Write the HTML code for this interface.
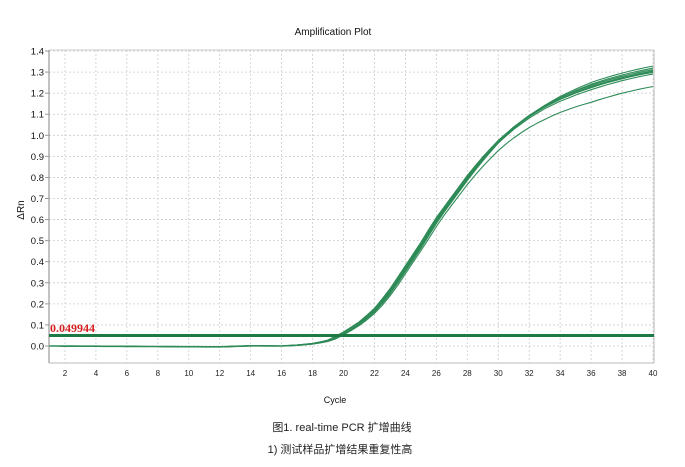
<!DOCTYPE html>
<html><head><meta charset="utf-8"><style>
body{margin:0;background:#fff;width:685px;height:467px;overflow:hidden}
svg{display:block}
</style></head><body>
<svg id="s" width="685" height="467" xmlns="http://www.w3.org/2000/svg" font-family="Liberation Sans, sans-serif">
<text x="333" y="35" font-size="10" text-anchor="middle" fill="#111">Amplification Plot</text>
<text transform="translate(24,210) rotate(-90)" font-size="10" text-anchor="middle" fill="#111">ΔRn</text>
<text x="335" y="403" font-size="9" text-anchor="middle" fill="#111">Cycle</text>
<text x="342" y="431" font-size="11" text-anchor="middle" fill="#222" font-family="Liberation Sans, Noto Sans CJK SC, sans-serif">图1. real-time PCR 扩增曲线</text>
<text x="340" y="453" font-size="11" text-anchor="middle" fill="#222" font-family="Liberation Sans, Noto Sans CJK SC, sans-serif">1) 测试样品扩增结果重复性高</text>
<g id="g"></g>
</svg>
<script>
var g=document.getElementById('g'),h='';
function X(c){return 49.5+(c-1)*15.474}
function Y(v){return 346-v*210.7}
for(var c=2;c<=40;c+=2){h+='<line x1="'+X(c)+'" y1="50" x2="'+X(c)+'" y2="363" stroke="#ccc" stroke-width="0.8" stroke-dasharray="2,2"/>';
h+='<text x="'+X(c)+'" y="376" font-size="8" text-anchor="middle" fill="#222">'+c+'</text>';}
for(var i=0;i<=14;i++){var y=Y(i/10);h+='<line x1="49" y1="'+y+'" x2="654" y2="'+y+'" stroke="#ccc" stroke-width="0.8" stroke-dasharray="2,2"/>';
h+='<text x="44" y="'+(y+3.5)+'" font-size="9.5" text-anchor="end" fill="#111">'+(i/10).toFixed(1)+'</text>';
h+='<line x1="45" y1="'+y+'" x2="49" y2="'+y+'" stroke="#999"/>';}
h+='<line x1="49" y1="50" x2="49" y2="363" stroke="#999" stroke-width="1.2"/>';
h+='<line x1="49" y1="363" x2="654" y2="363" stroke="#bbb" stroke-width="1"/>';
h+='<line x1="654" y1="50" x2="654" y2="363" stroke="#bbb" stroke-width="1"/>';
h+='<line x1="49" y1="50" x2="654" y2="50" stroke="#ccc" stroke-width="1"/>';
var base={1:0,12:-0.004,14:0.001,16:0.0,17:0.004,18:0.011,19:0.025,20:0.062,21:0.108,22:0.17,23:0.26,24:0.37,25:0.48,26:0.6,27:0.7,28:0.8,29:0.89,30:0.97,31:1.035,32:1.09,33:1.135,34:1.172,35:1.203,36:1.23,37:1.253,38:1.273,39:1.29,40:1.305};
var ks=Object.keys(base).map(Number).sort(function(a,b){return a-b});
function val(c){if(c<=1)return 0;if(c>=40)return base[40];
for(var i=0;i<ks.length-1;i++){if(c>=ks[i]&&c<=ks[i+1]){var t=(c-ks[i])/(ks[i+1]-ks[i]);return base[ks[i]]*(1-t)+base[ks[i+1]]*t;}}return base[40];}
var curves=[[0,1.0],[0.1,1.012],[-0.1,0.995],[0.15,1.02],[0.05,0.99],[-0.05,1.005],[0.25,0.965]];
curves.forEach(function(p,k){var d='';for(var c=1;c<=40;c+=0.5){var v=val(c-p[0]);if(c>28)v=v*(1+(p[1]-1)*Math.min(1,(c-28)/8));if(k==6&&c>25)v-=Math.min(c-25,8)*0.003;
d+=(c==1?'M':'L')+X(c).toFixed(1)+','+Y(v).toFixed(1);}
h+='<path d="'+d+'" fill="none" stroke="#2e8b57" stroke-width="'+(k==0?1.6:1.1)+'" stroke-linejoin="round"/>';});
h+='<line x1="49" y1="'+Y(0.0499)+'" x2="654" y2="'+Y(0.0499)+'" stroke="#1e7a45" stroke-width="3"/>';
h+='<text x="50" y="332" font-size="12" font-weight="bold" fill="#d42020" font-family="Liberation Serif, serif">0.049944</text>';
g.innerHTML=h;
</script>
</body></html>
